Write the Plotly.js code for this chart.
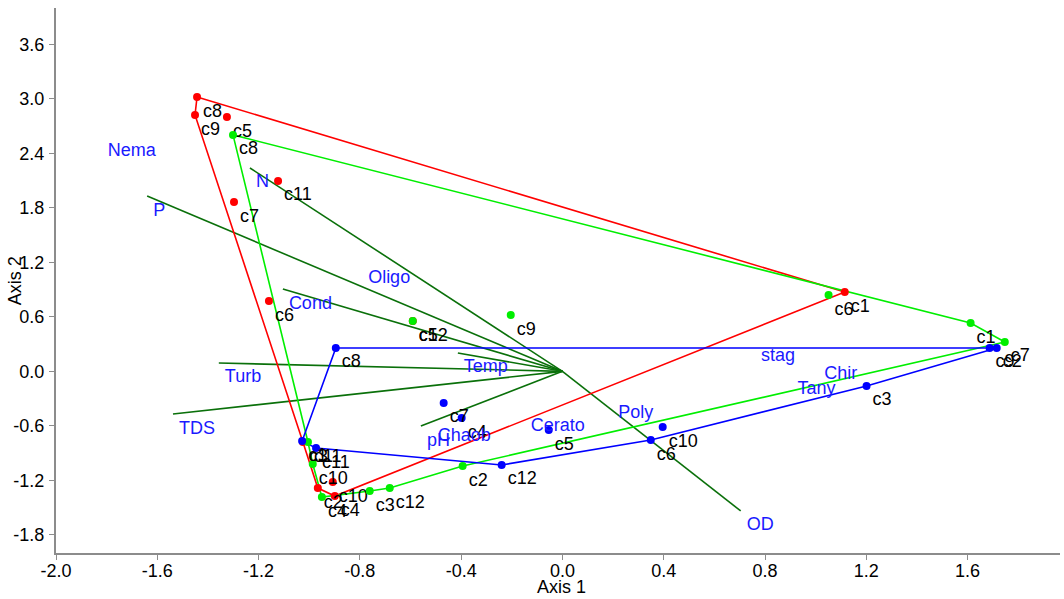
<!DOCTYPE html>
<html>
<head>
<meta charset="utf-8">
<script src="https://cdn.plot.ly/plotly-3.0.1.min.js"></script>
<style>html,body{margin:0;padding:0;background:#fff;}#chart{width:1064px;height:599px;}</style>
</head>
<body>
<div id="chart"></div>
<script>
// ---- sample scores per group ----
const sampleNames = ['c1','c2','c3','c4','c5','c6','c7','c8','c9','c10','c11','c12'];

const redX   = [1.115, -0.966, -1.025, -0.899, -1.325, -1.159, -1.297, -1.443, -1.451, -0.907, -1.123, -0.591];
const redY   = [0.873, -1.285, -0.778, -1.373,  2.800,  0.774,  1.864,  3.020,  2.822, -1.219,  2.096,  0.554];
const redHull = ['c8','c1','c4','c2','c3','c9','c8'];

const greenX = [1.612, -0.394, -0.761, -0.950, -0.591, 1.051, 1.747, -1.301, -0.204, -0.986, -1.005, -0.682];
const greenY = [0.532, -1.043, -1.318, -1.384,  0.554, 0.840, 0.323,  2.603,  0.620, -1.021, -0.778, -1.285];
const greenHull = ['c8','c1','c7','c2','c12','c3','c4','c10','c11','c8'];

const blueX  = [-1.028, 1.715, 1.201, -0.398, -0.054, 0.349, -0.469, -0.895, 1.687, 0.396, -0.973, -0.240];
const blueY  = [-0.767, 0.257, -0.161, -0.514, -0.646, -0.757, -0.348, 0.257, 0.257, -0.613, -0.845, -1.031];
const blueHull = ['c8','c2','c3','c6','c12','c11','c1','c8'];

// ---- environmental vectors ----
const envNames = ['P','N','Cond','Turb','TDS','Temp','pH','OD'];
const envX = [-1.640, -1.234, -1.104, -1.357, -1.538, -0.413, -0.559, 0.704];
const envY = [ 1.930,  2.239,  0.906,  0.092, -0.470,  0.202, -0.602, -1.537];

// ---- taxa scores ----
const taxaNames = ['Nema','Oligo','stag','Chir','Tany','Poly','Cerato','Chaob'];
const taxaX = [-1.819, -0.791, 0.760, 1.010, 0.905, 0.197, -0.149, -0.516];
const taxaY = [ 2.580,  1.192, 0.334, 0.125, -0.040, -0.294, -0.437, -0.557];

// ---- tick labels ----
const xTicks = [-2.0,-1.6,-1.2,-0.8,-0.4,0.0,0.4,0.8,1.2,1.6];
const yTicks = [-1.8,-1.2,-0.6,0.0,0.6,1.2,1.8,2.4,3.0,3.6];

const FONT = 'Liberation Sans, Arial, sans-serif';
const FS = 18;
const RED = '#ff0000', GREEN = '#00ee00', BLUE = '#0000ff', DKGREEN = '#0a700a', LBLUE = '#1a1aff';

function hullTrace(xs, ys, hull, color) {
  const hx = [], hy = [];
  hull.forEach(n => { const i = sampleNames.indexOf(n); hx.push(xs[i]); hy.push(ys[i]); });
  return {x: hx, y: hy, mode: 'lines', type: 'scatter', line: {color: color, width: 1.6}, hoverinfo: 'skip', showlegend: false};
}
function pointTrace(xs, ys, color) {
  return {x: xs, y: ys, text: sampleNames, mode: 'markers+text', type: 'scatter',
    textposition: 'bottom right', textfont: {family: FONT, size: FS, color: '#000'},
    marker: {color: color, size: 8}, showlegend: false, cliponaxis: false};
}
function labelTrace(xs, ys, names) {
  return {x: xs, y: ys, text: names, mode: 'markers+text', type: 'scatter', textposition: 'bottom right',
    textfont: {family: FONT, size: FS, color: LBLUE}, marker: {size: 8, opacity: 0},
    showlegend: false, cliponaxis: false, hoverinfo: 'skip'};
}

const vx = [], vy = [];
envX.forEach((v, i) => { vx.push(0, v, null); vy.push(0, envY[i], null); });

const traces = [
  {x: vx, y: vy, mode: 'lines', type: 'scatter', line: {color: DKGREEN, width: 1.6}, showlegend: false, hoverinfo: 'skip'},
  hullTrace(redX, redY, redHull, RED),
  hullTrace(greenX, greenY, greenHull, GREEN),
  hullTrace(blueX, blueY, blueHull, BLUE),
  pointTrace(redX, redY, RED),
  pointTrace(greenX, greenY, GREEN),
  pointTrace(blueX, blueY, BLUE),
  labelTrace(envX, envY, envNames),
  labelTrace(taxaX, taxaY, taxaNames)
];

const axisCommon = {
  showgrid: false, zeroline: false, showline: true, linecolor: '#8c8c8c', linewidth: 2,
  ticks: 'outside', ticklen: 5, tickwidth: 1, tickcolor: '#8c8c8c',
  tickfont: {family: FONT, size: FS, color: '#000'}, mirror: false
};

const layout = {
  width: 1064, height: 599,
  margin: {l: 56, r: 4, t: 8, b: 46},
  paper_bgcolor: '#fff', plot_bgcolor: '#fff',
  xaxis: Object.assign({}, axisCommon, {range: [-2.0, 1.965], tickvals: xTicks, ticktext: xTicks.map(v => v.toFixed(1)), ticklabelstandoff: -5}),
  yaxis: Object.assign({}, axisCommon, {range: [-2.0, 4.0], tickvals: yTicks, ticktext: yTicks.map(v => v.toFixed(1)), ticklabelstandoff: 1}),
  annotations: [
    {text: 'Axis 1', xref: 'paper', yref: 'paper', x: 0.503, y: -0.062, xanchor: 'center', yanchor: 'middle',
     showarrow: false, font: {family: FONT, size: FS, color: '#000'}},
    {text: 'Axis 2', xref: 'paper', yref: 'paper', x: -0.041, y: 0.5, xanchor: 'center', yanchor: 'middle',
     textangle: -90, showarrow: false, font: {family: FONT, size: FS, color: '#000'}}
  ],
  showlegend: false
};

Plotly.newPlot('chart', traces, layout, {displayModeBar: false, staticPlot: true});
</script>
</body>
</html>
